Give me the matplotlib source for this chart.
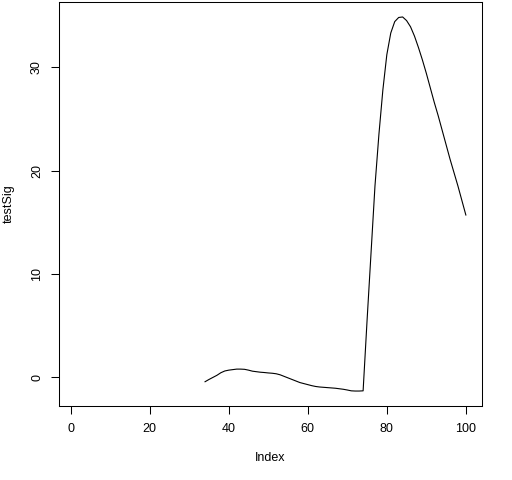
"""
plot.py - line plot of testSig against its index, drawn to look like R's base plot().
"""

import matplotlib
matplotlib.use("Agg")
import matplotlib.pyplot as plt
import numpy as np

plt.rcParams["font.family"] = ["Liberation Sans", "DejaVu Sans"]

# Values (indices 1..33 are missing)
first_index = 34
test_sig = [
    -0.42, -0.20, 0.00, 0.20, 0.45, 0.62, 0.70, 0.75, 0.80, 0.80,   # 34-43
    0.78, 0.70, 0.60, 0.55, 0.50, 0.47, 0.43, 0.40, 0.35, 0.25,     # 44-53
    0.10, -0.05, -0.20, -0.35, -0.50, -0.60, -0.70, -0.80, -0.88, -0.93,  # 54-63
    -0.96, -0.99, -1.02, -1.05, -1.10, -1.15, -1.22, -1.30, -1.32, -1.32,  # 64-73
    -1.30, 5.5, 12.0, 18.5, 23.5, 27.8, 31.2, 33.3, 34.4, 34.8,     # 74-83
    34.85, 34.5, 33.9, 33.0, 31.9, 30.7, 29.4, 28.0, 26.6, 25.3,    # 84-93
    23.9, 22.5, 21.1, 19.8, 18.5, 17.1, 15.7,                        # 94-100
]
n_total = 100
x_ticks = [0, 20, 40, 60, 80, 100]
y_ticks = [0, 10, 20, 30]

index = np.arange(first_index, first_index + len(test_sig))
values = np.array(test_sig)

fig = plt.figure(figsize=(5.12, 4.8), dpi=100)
ax = fig.add_axes([59 / 512, 1 - 406 / 480, 422.5 / 512, 404 / 480])

ax.plot(index, values, color="black", linewidth=0.8)

# R style 4% padding on both axes
x_lo, x_hi = 1, n_total
pad_x = 0.04 * (x_hi - x_lo)
ax.set_xlim(x_lo - pad_x, x_hi + pad_x)
y_lo, y_hi = values.min(), values.max()
pad_y = 0.04 * (y_hi - y_lo)
ax.set_ylim(y_lo - pad_y, y_hi + pad_y)

ax.set_xticks(x_ticks)
ax.set_yticks(y_ticks)
ax.set_yticklabels([str(t) for t in y_ticks], rotation=90, va="center")
ax.tick_params(axis="both", direction="out", length=5.5, width=0.75,
               labelsize=9, color="black")
ax.tick_params(axis="x", pad=7)
ax.tick_params(axis="y", pad=6)

for spine in ax.spines.values():
    spine.set_linewidth(0.75)
    spine.set_color("black")

ax.set_xlabel("Index", fontsize=9)
ax.xaxis.set_label_coords(0.5, -0.115)
ax.set_ylabel("testSig", fontsize=9)
ax.yaxis.set_label_coords(-0.105, 0.5)

fig.savefig("out.png", dpi=100, facecolor="white")
